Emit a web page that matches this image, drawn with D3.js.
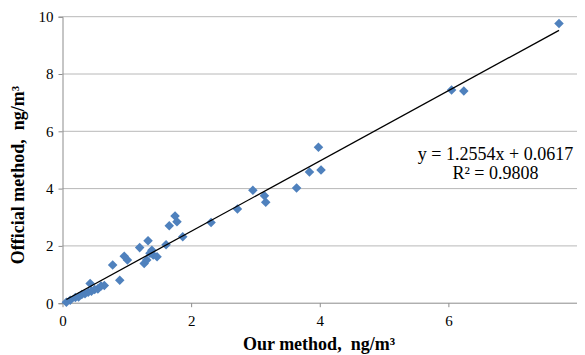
<!DOCTYPE html>
<html><head><meta charset="utf-8">
<script src="https://cdn.jsdelivr.net/npm/d3@7"></script>
<style>body{margin:0;background:#fff}svg{display:block}text{font-family:"Liberation Serif","Times New Roman",serif}</style>
</head><body>
<svg id="c" width="585" height="355"></svg>
<script>
const ourMethod = [0.06,0.12,0.2,0.25,0.3,0.35,0.4,0.43,0.45,0.5,0.55,0.6,0.65,0.78,0.89,0.96,1.01,1.2,1.27,1.31,1.33,1.36,1.39,1.41,1.47,1.61,1.66,1.75,1.78,1.87,2.31,2.72,2.96,3.14,3.16,3.64,3.84,3.98,4.02,6.05,6.24,7.72];
const officialMethod = [0.03,0.1,0.2,0.22,0.3,0.33,0.38,0.69,0.42,0.48,0.5,0.6,0.62,1.33,0.8,1.64,1.51,1.94,1.39,1.51,2.18,1.74,1.85,1.68,1.62,2.04,2.7,3.04,2.84,2.32,2.82,3.29,3.94,3.75,3.52,4.02,4.58,5.44,4.65,7.44,7.41,9.76];
const xTicks = [0,2,4,6];
const yTicks = [0,2,4,6,8,10];
const eqLines = ["y = 1.2554x + 0.0617", "R² = 0.9808"];
const xTitle = "Our method,  ng/m³";
const yTitle = "Official method,  ng/m³";

const svg = d3.select("#c");
const x = d3.scaleLinear().domain([0,8]).range([62.5,577]);
const y = d3.scaleLinear().domain([0,10]).range([303.2,16.7]);

// gridlines
svg.append("g").selectAll("line").data(yTicks.filter(d=>d>0)).join("line")
  .attr("x1",x(0)).attr("x2",x(8)).attr("y1",d=>y(d)).attr("y2",d=>y(d))
  .attr("stroke","#b8b8b8").attr("stroke-width",1);

// axes
const xAxis = d3.axisBottom(x).tickValues(xTicks).tickSize(4).tickPadding(8).tickFormat(d3.format("d"));
const gx = svg.append("g").attr("transform",`translate(0,${y(0)})`).call(xAxis);
const yAxis = d3.axisLeft(y).tickValues(yTicks).tickSize(4).tickPadding(5).tickFormat(d3.format("d"));
const gy = svg.append("g").attr("transform",`translate(${x(0)},0)`).call(yAxis);
[gx,gy].forEach(g=>{
  g.select(".domain").attr("stroke","#8c8c8c");
  g.selectAll(".tick line").attr("stroke","#8c8c8c");
  g.selectAll(".tick text").attr("font-family","Liberation Serif").attr("font-size",15).attr("fill","#000");
});
gx.select(".domain").attr("d",`M${x(0)},0H${x(8)}`);

// regression line from data
const n = ourMethod.length;
const mx = d3.mean(ourMethod), my = d3.mean(officialMethod);
let sxy=0,sxx=0;
for(let i=0;i<n;i++){sxy+=(ourMethod[i]-mx)*(officialMethod[i]-my);sxx+=(ourMethod[i]-mx)**2;}
const b = sxy/sxx, a = my-b*mx;
const [x0,x1] = d3.extent(ourMethod);

// points
const diamond = d3.symbol().type(d3.symbolDiamond2).size(58);
svg.append("g").selectAll("path").data(ourMethod.map((d,i)=>[d,officialMethod[i]])).join("path")
  .attr("d",diamond).attr("transform",d=>`translate(${x(d[0])},${y(d[1])})`)
  .attr("fill","#4f81bd");

svg.append("line").attr("x1",x(x0)).attr("y1",y(a+b*x0)).attr("x2",x(x1)).attr("y2",y(a+b*x1))
  .attr("stroke","#000").attr("stroke-width",1.3);

// equation
svg.append("g").selectAll("text").data(eqLines).join("text")
  .attr("x",495.5).attr("y",(d,i)=>160+i*19).attr("text-anchor","middle")
  .attr("font-size",18).attr("fill","#000").text(d=>d);

// titles
svg.append("text").attr("x",319).attr("y",350).attr("text-anchor","middle")
  .attr("font-size",18).attr("font-weight","bold").style("white-space","pre").text(xTitle);
svg.append("text").attr("transform","translate(24,175) rotate(-90)").attr("text-anchor","middle")
  .attr("font-size",18).attr("font-weight","bold").style("white-space","pre").text(yTitle);
</script>
</body></html>
